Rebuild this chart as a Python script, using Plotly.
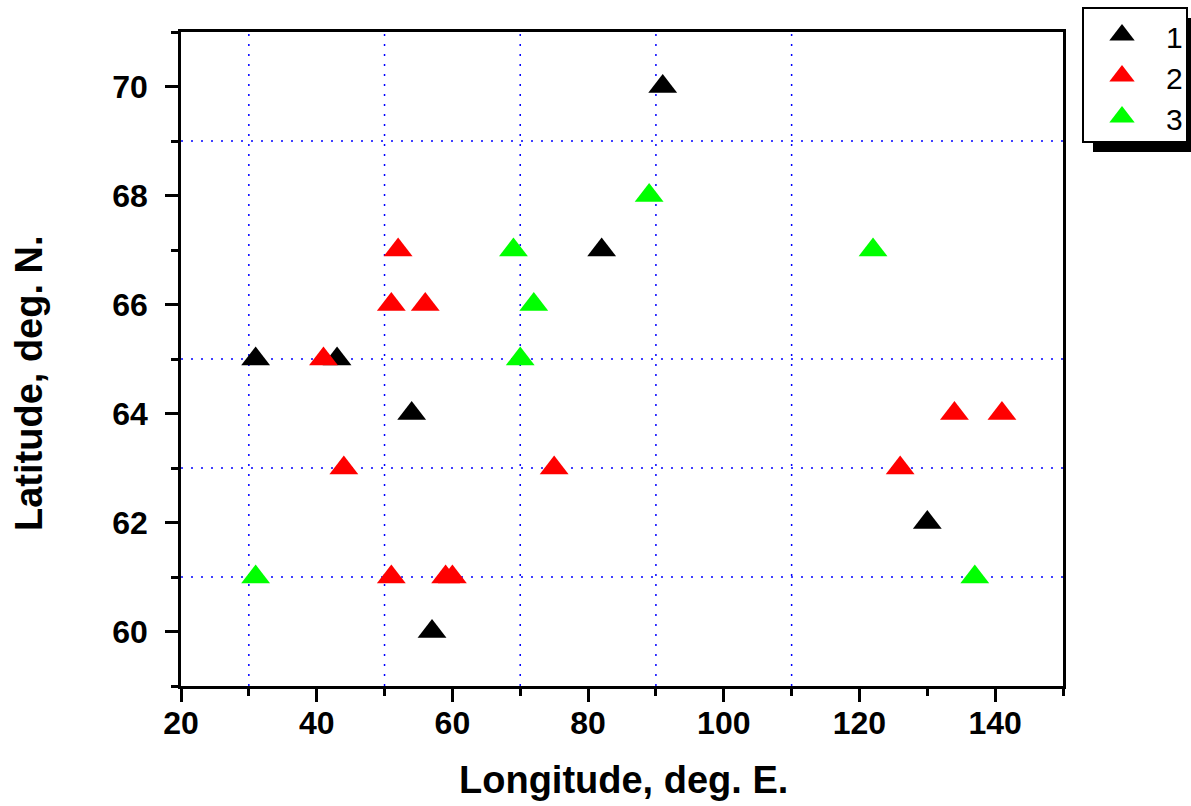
import plotly.graph_objects as go

# ---- data ----
s1_lon = [31, 43, 54, 57, 82, 91, 130]
s1_lat = [65, 65, 64, 60, 67, 70, 62]

s2_lon = [41, 52, 51, 56, 44, 75, 51, 59, 60, 126, 134, 141]
s2_lat = [65, 67, 66, 66, 63, 63, 61, 61, 61, 63, 64, 64]

s3_lon = [31, 69, 72, 70, 89, 122, 137]
s3_lat = [61, 67, 66, 65, 68, 67, 61]

series_names = ["1", "2", "3"]
series_colors = ["#000000", "#ff0000", "#00ff00"]

x_ticks = [20, 40, 60, 80, 100, 120, 140]
y_ticks = [60, 62, 64, 66, 68, 70]
grid_x = [30, 50, 70, 90, 110]
grid_y = [61, 63, 65, 69]

x_title = "Longitude, deg. E."
y_title = "Latitude, deg. N."

# ---- geometry (screen pixels; page body margin removed below) ----
W, H = 1191, 806
PLOT_L, PLOT_R, PLOT_T, PLOT_B = 181, 1063, 32, 686
LEG_L, LEG_R, LEG_T, LEG_B = 1083, 1187, 8, 142
SHADOW = 10

ML = PLOT_L
MB = H - PLOT_B
PAPER_W = W - ML   # right margin 0
PAPER_H = H - MB   # top margin 0


def px_x(p):
    return (p - ML) / PAPER_W


def px_y(p):
    return (PLOT_B - p) / PAPER_H


fig = go.Figure()
for lon, lat, name, col in zip([s1_lon, s2_lon, s3_lon], [s1_lat, s2_lat, s3_lat],
                               series_names, series_colors):
    fig.add_trace(go.Scatter(
        x=lon, y=lat, mode="markers", name=name, xaxis="x", yaxis="y",
        marker=dict(symbol="triangle-up", size=25, color=col, line=dict(width=0)),
        cliponaxis=False, showlegend=False,
    ))

# ---- legend built on its own small axis ----
legend_sym_x = 0.375
legend_txt_x = 0.875
row_px0, row_dy = 35, 41
leg_annotations = []
for i, (name, col) in enumerate(zip(series_names, series_colors)):
    fig.add_trace(go.Scatter(
        x=[legend_sym_x], y=[i], mode="markers", xaxis="x2", yaxis="y2",
        marker=dict(symbol="triangle-up", size=22, color=col, line=dict(width=0)),
        cliponaxis=False, showlegend=False, hoverinfo="skip",
    ))
    leg_annotations.append(dict(
        text=name, xref="x2", yref="y2", x=legend_txt_x, y=i, yshift=-3,
        xanchor="center", yanchor="middle", showarrow=False,
        font=dict(family="Liberation Sans", size=30, color="black")))

shapes = []
grid_line = dict(color="#0000ff", width=1.5, dash="2px,8px")
for gx in grid_x:
    shapes.append(dict(type="line", xref="x", yref="y", x0=gx, x1=gx, y0=59, y1=71,
                       line=grid_line, layer="below"))
for gy in grid_y:
    shapes.append(dict(type="line", xref="x", yref="y", x0=20, x1=150, y0=gy, y1=gy,
                       line=grid_line, layer="below"))

# legend shadow + box
shapes.append(dict(type="rect", xref="paper", yref="paper",
                   x0=px_x(LEG_L + SHADOW), x1=px_x(LEG_R + 20),
                   y0=px_y(LEG_B + SHADOW), y1=px_y(LEG_T + SHADOW),
                   fillcolor="black", line=dict(width=0), layer="below"))
shapes.append(dict(type="rect", xref="paper", yref="paper",
                   x0=px_x(LEG_L), x1=px_x(LEG_R), y0=px_y(LEG_B), y1=px_y(LEG_T),
                   fillcolor="white", line=dict(color="black", width=2), layer="below"))

tickfont = dict(family="Liberation Sans", size=32, color="black", weight="bold")
axis_common = dict(
    showline=True, linecolor="black", linewidth=2.5, mirror=True,
    ticks="outside", ticklen=13, tickwidth=2.5, tickcolor="black",
    showgrid=False, zeroline=False, tickfont=tickfont,
)

row_top = (LEG_T - row_px0) / row_dy
row_bot = (LEG_B - row_px0) / row_dy

fig.update_layout(
    width=W, height=H,
    margin=dict(l=ML, r=0, t=0, b=MB, pad=0, autoexpand=False),
    paper_bgcolor="white", plot_bgcolor="rgba(0,0,0,0)",
    xaxis=dict(domain=[0, px_x(PLOT_R)], range=[20, 150], tickvals=x_ticks,
               ticklabelstandoff=-6,
               minor=dict(ticks="outside", ticklen=7, tickwidth=2.5, tickcolor="black",
                          dtick=10, tick0=0, showgrid=False),
               **axis_common),
    yaxis=dict(domain=[0, px_y(PLOT_T)], range=[59, 71], tickvals=y_ticks,
               ticklabelstandoff=11,
               minor=dict(ticks="outside", ticklen=7, tickwidth=2.5, tickcolor="black",
                          dtick=1, tick0=0, showgrid=False),
               **axis_common),
    xaxis2=dict(domain=[px_x(LEG_L), px_x(LEG_R)], range=[0, 1], visible=False,
                anchor="y2", fixedrange=True),
    yaxis2=dict(domain=[px_y(LEG_B), px_y(LEG_T)], range=[row_bot, row_top],
                visible=False, anchor="x2", fixedrange=True),
    showlegend=False,
    shapes=shapes,
    annotations=[
        dict(text=x_title, xref="paper", yref="paper", x=px_x(623), y=px_y(780),
             xanchor="center", yanchor="middle", showarrow=False,
             font=dict(family="Liberation Sans", size=38, color="black", weight="bold")),
        dict(text=y_title, xref="paper", yref="paper", x=px_x(29), y=px_y(383),
             xanchor="center", yanchor="middle", showarrow=False, textangle=-90,
             font=dict(family="Liberation Sans", size=38, color="black", weight="bold")),
    ] + leg_annotations,
)

fig.write_html(
    "out.html",
    config={"displayModeBar": False},
    post_script="document.body.style.margin='0';document.body.style.overflow='hidden';",
)
